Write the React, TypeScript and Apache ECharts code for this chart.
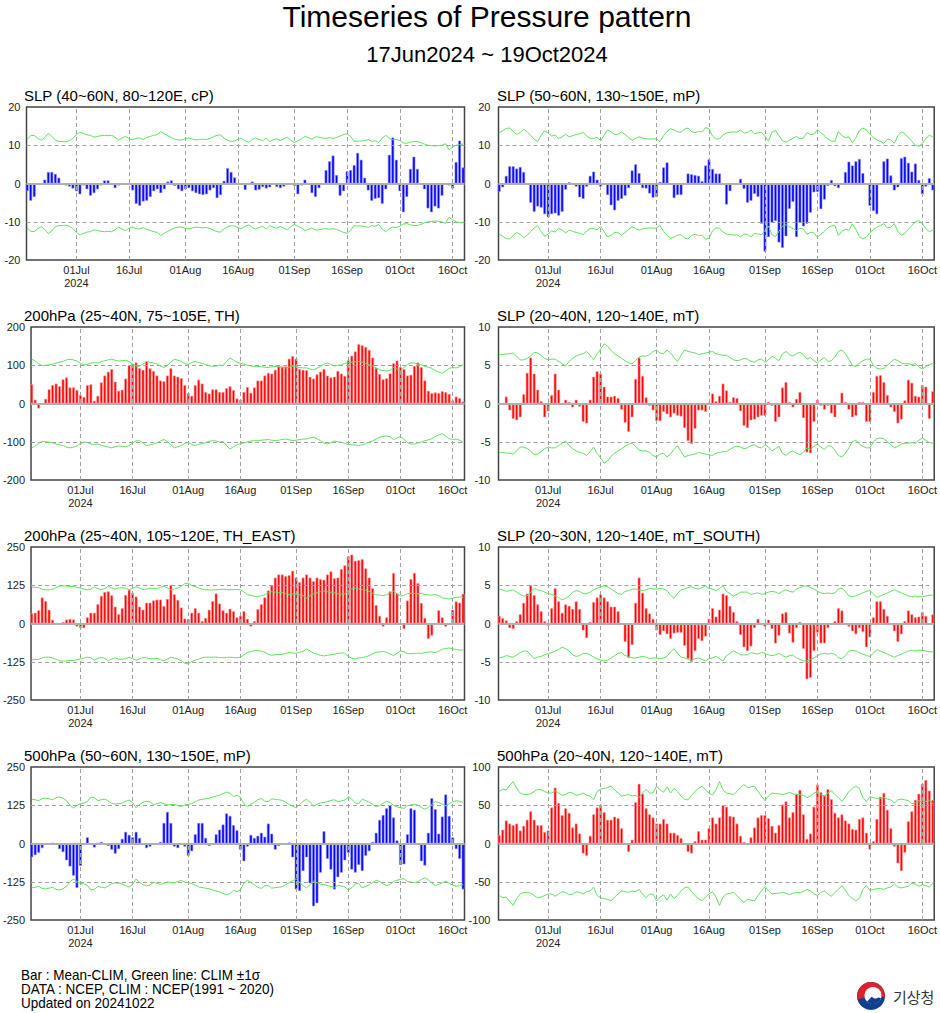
import React, { useEffect, useRef } from "react";
import * as echarts from "echarts";

// ---- axis ticks (day index from 17 Jun 2024) ----
const tickDays = [14, 29, 45, 60, 76, 91, 106, 121];
const tickLabels = ["01Jul\n2024", "16Jul", "01Aug", "16Aug", "01Sep", "16Sep", "01Oct", "16Oct"];

// ---- panel titles ----
const panelTitles = [
  "SLP (40~60N, 80~120E, cP)",
  "SLP (50~60N, 130~150E, mP)",
  "200hPa (25~40N, 75~105E, TH)",
  "SLP (20~40N, 120~140E, mT)",
  "200hPa (25~40N, 105~120E, TH_EAST)",
  "SLP (20~30N, 120~140E, mT_SOUTH)",
  "500hPa (50~60N, 130~150E, mP)",
  "500hPa (20~40N, 120~140E, mT)",
];

// ---- Bar : Mean-CLIM ; sigma : CLIM 1 sigma ----
const slpCP = [
  -2, -4.5, -3.5, -0.2, -0.2, 1, 3, 3, 2.5, 1.5,
  0, -0.5, -0.8, -1.3, -2, -2.8, -0.5, -1.5, -3.2, -2.5,
  -1.5, -0.5, 0.8, 0.8, -0.3, -1.2, -0.5, -0.1, 0, -0.1,
  -1.8, -5.3, -5.8, -4.7, -4.5, -3.5, -2, -1.5, -2.5, -1.5,
  0.5, 0.8, -0.6, -1.5, -2, -1.5, -1.2, -2, -2.5, -2.8,
  -3, -2.8, -1.8, -1.2, -3.8, -3, 0.7, 4, 3, 1.6,
  0, -0.3, -1.7, -0.4, 0.5, -1.8, -1.6, -0.9, -1.3, -1,
  0, -0.9, -1.2, -0.8, 0, 0, -0.6, -2.8, -0.5, 1,
  0, -2.5, -3.5, -1.2, 0, 3.5, 5.8, 7.3, 2.2, -3.2,
  -2, 3.2, 3.5, 4.8, 8, 6.2, 1.5, -1.8, -4.5, -4,
  -3.8, -5.3, -1.5, 7.5, 12, 6.2, -2, -7.5, -3.5, 3.8,
  7, 3.8, -0.3, -1.5, -6.5, -7.5, -6, -6.5, -3.2, 0,
  -0.5, -1.3, 5.6, 11.2, 4.2,
];
const slpCPSigma = [
  11.6, 12.5, 12.6, 11.8, 11.3, 12.0, 13.1, 12.4, 11.3, 11.0,
  11.0, 10.9, 11.2, 11.8, 12.8, 13.4, 13.1, 12.7, 12.6, 12.1,
  12.3, 12.5, 12.6, 12.5, 12.6, 12.1, 11.4, 11.9, 12.3, 11.7,
  11.4, 11.8, 11.9, 11.5, 12.0, 12.3, 12.6, 12.8, 13.6, 13.0,
  12.5, 12.0, 11.6, 11.4, 11.4, 11.7, 11.9, 11.6, 11.4, 11.5,
  11.6, 11.5, 11.8, 12.2, 12.6, 12.7, 11.9, 11.3, 11.0, 11.1,
  11.6, 11.8, 11.2, 10.8, 11.5, 11.9, 11.5, 11.2, 11.9, 11.0,
  11.4, 11.7, 11.2, 11.7, 12.1, 11.3, 10.7, 11.2, 11.6, 12.3,
  12.0, 11.6, 12.2, 12.1, 11.9, 11.8, 12.0, 11.8, 12.0, 12.4,
  12.8, 13.0, 12.3, 11.0, 11.1, 11.1, 11.2, 11.5, 11.0, 11.2,
  10.7, 11.9, 12.6, 11.8, 11.4, 11.5, 11.2, 10.6, 10.5, 10.8,
  11.0, 11.0, 10.7, 10.3, 10.0, 9.9, 9.8, 9.9, 10.0, 10.4,
  8.8, 9.5, 10.0, 10.2, 10.3,
];

const slpMP = [
  -2.2, -1, 2, 4.5, 4.5, 3.9, 4.3, 3, 0, -5,
  -7.4, -6, -6.3, -8, -8.8, -8, -7.8, -8.4, -7.4, -1.6,
  0.3, 0, -0.8, -3.6, -4, -0.8, 2, 3.1, 1, -0.8,
  -0.4, -3, -5.7, -7, -4.5, -4, -3.2, -1.2, 3.4, 5,
  2.7, -1.2, -1.3, -2.6, -3.7, -3.5, 0.4, 4.2, 5.5, 0,
  -3.8, -3, -3, -0.3, 2.6, 2.4, 2.2, 2, 0.6, 4.7,
  6.3, 3.8, 2.6, 2.6, -0.3, -5.5, -2, 0, -0.2, 1.2,
  -1.4, -5, -4.5, -2.7, -3.5, -10.5, -17.8, -14, -10.2, -9.8,
  -15.4, -16.8, -13.8, -6.6, -4.8, -14, -10.3, -11.2, -10.5, -7.6,
  -2.3, -2.2, -6.7, -4.2, -0.6, 0.9, -0.7, -1.2, 0, 3,
  5.7, 4.7, 5.8, 6.4, 2.7, 0, -5.8, -7.2, -8, 0,
  5.8, 6.5, 2.1, -1.8, -1, 6.6, 7, 5.4, 3.1, 5.2,
  0.9, -2.8, -0.8, 1.4, -1.8,
];
const slpMPSigma = [
  13.2, 13.8, 14.4, 14.5, 13.6, 12.8, 13.3, 14.2, 13.5, 12.6,
  11.6, 11.0, 12.6, 13.8, 13.2, 12.4, 12.7, 11.7, 12.2, 12.9,
  12.2, 12.5, 12.8, 13.0, 13.4, 12.4, 11.8, 11.8, 12.1, 11.2,
  12.6, 14.0, 13.5, 12.8, 12.9, 13.5, 12.8, 12.0, 11.3, 11.8,
  12.2, 11.9, 11.7, 11.6, 11.7, 11.6, 11.0, 12.5, 13.6, 14.3,
  14.0, 13.5, 13.4, 14.2, 14.5, 13.6, 13.3, 13.6, 13.5, 14.6,
  14.3, 12.4, 11.6, 11.7, 12.7, 13.2, 13.4, 13.5, 13.4, 14.0,
  13.2, 13.3, 14.0, 13.0, 13.2, 13.4, 12.3, 11.1, 13.4, 13.9,
  12.5, 11.2, 10.8, 11.3, 11.8, 12.3, 11.7, 11.9, 13.3, 12.8,
  12.9, 14.0, 13.3, 12.5, 11.6, 11.1, 11.0, 13.6, 12.5, 12.0,
  12.2, 10.6, 12.0, 13.9, 14.5, 14.0, 12.9, 12.0, 11.4, 11.0,
  10.5, 11.6, 11.4, 10.5, 12.5, 13.5, 13.0, 12.0, 11.0, 10.0,
  9.7, 10.5, 11.8, 12.6, 12.2,
];

const h200TH = [
  50, 10, -13, -3, 12, 37, 48, 52, 45, 63,
  68, 42, 42, 35, 22, 17, 48, 50, 7, 20,
  55, 73, 83, 90, 57, 33, 36, 65, 100, 103,
  107, 92, 88, 110, 92, 85, 73, 60, 58, 73,
  92, 73, 70, 66, 48, 27, 20, 48, 62, 52,
  30, 26, 37, 37, 30, 30, 40, 45, 35, 13,
  10, 30, 43, 28, 42, 60, 60, 73, 80, 78,
  88, 97, 97, 97, 117, 124, 117, 90, 88, 87,
  70, 65, 76, 83, 90, 73, 68, 70, 85, 78,
  72, 113, 125, 136, 155, 152, 148, 140, 120, 93,
  77, 63, 66, 79, 105, 112, 95, 90, 73, 75,
  98, 107, 95, 60, 33, 27, 29, 27, 32, 30,
  25, 8, 18, 14, 5,
];
const h200THSigma = [
  116, 111, 104, 99, 100, 101, 103, 106, 108, 110,
  114, 116, 114, 111, 105, 101, 102, 106, 107, 106,
  109, 112, 114, 116, 113, 111, 112, 113, 110, 103,
  98, 97, 103, 110, 108, 106, 103, 98, 94, 100,
  108, 116, 113, 110, 104, 102, 107, 110, 107, 105,
  102, 99, 97, 98, 101, 99, 110, 119, 113, 108,
  105, 103, 100, 98, 97, 97, 96, 95, 94, 96,
  97, 96, 94, 93, 95, 97, 96, 94, 93, 93,
  90, 88, 92, 97, 103, 106, 102, 98, 100, 101,
  105, 107, 108, 109, 110, 108, 105, 101, 98, 93,
  88, 86, 85, 87, 94, 90, 86, 94, 102, 106,
  106, 103, 101, 97, 95, 92, 86, 82, 79, 85,
  92, 94, 93, 96, 101,
];

const slpMT = [
  -0.1, 0, 0.9, -0.9, -2, -2.2, -1.8, 1.2, 4, 6,
  3.9, 1.8, 0.3, -1.8, -1, 1.1, 3.9, 1.8, 0, 0.5,
  0.2, -0.5, 0.5, -0.4, -2.4, -2.6, 0.5, 3.5, 4.2, 3.9,
  2.2, 0.9, 0.9, 1, 0.7, -0.8, -2.5, -3.7, -1.8, 3.2,
  6, 3.6, 0.8, -0.3, -0.9, -2.3, -2.3, -1.1, -1.4, -1.8,
  -1.3, -1.6, -1.7, -3.2, -4.9, -5.3, -3.3, -0.9, -0.9, -1.1,
  0.1, 1.3, 0.3, 1, 2.6, 1.7, 0.2, 0.8, 0.7, -1,
  -2.9, -3.2, -2.2, -2.1, -1.8, -1.6, -1.6, 0.2, -0.3, -2.4,
  -1.8, 2.1, 2.8, 0.2, -0.5, 0.6, 1.5, -1.9, -6.4, -6.5,
  -2.4, 0.5, -0.3, -0.8, -0.3, -1.3, -1.8, 0, 1.4, 0.2,
  -0.8, -1.8, -1.6, 0.2, 0.2, -2.4, -2.4, 1.5, 3.6, 3.7,
  2.8, 1.1, -0.5, -1.1, -2.6, -2.1, 0.4, 3.1, 2.7, 1,
  0.9, 2.4, 2.2, -2, 1.6,
];
const slpMTSigma = [
  6.4, 6.4, 6.5, 6.5, 6.6, 6.2, 5.7, 5.7, 5.9, 6.2,
  6.7, 6.6, 6.3, 5.9, 5.7, 5.8, 5.8, 5.5, 5.2, 4.9,
  5.5, 5.9, 6.2, 6.4, 6.5, 6.8, 6.3, 5.7, 6.5, 7.1,
  7.8, 7.5, 6.9, 6.5, 6.2, 5.9, 5.6, 5.3, 5.2, 5.6,
  6.1, 6.2, 6.2, 6.4, 6.8, 7.0, 6.6, 6.5, 7.0, 6.6,
  6.0, 5.5, 6.3, 7.0, 6.8, 6.7, 6.6, 6.4, 6.5, 6.6,
  6.7, 6.8, 6.5, 6.4, 6.3, 6.3, 6.0, 5.7, 5.6, 5.7,
  5.9, 5.8, 5.5, 5.4, 5.7, 5.8, 5.4, 5.7, 6.2, 5.9,
  5.6, 6.5, 6.8, 6.4, 6.2, 6.5, 6.7, 6.4, 5.8, 6.0,
  5.6, 5.3, 5.7, 6.0, 5.5, 5.6, 6.1, 6.8, 7.0, 6.5,
  5.8, 5.0, 4.8, 5.3, 5.6, 5.8, 5.8, 5.0, 4.6, 4.5,
  4.6, 5.0, 5.4, 5.8, 5.6, 5.3, 5.2, 5.2, 5.1, 5.2,
  4.8, 4.5, 4.8, 5.1, 5.2,
];

const h200THEast = [
  33, 35, 43, 85, 73, 45, 12, 0, -5, 5,
  13, 15, 13, -10, -15, -15, 20, 35, 35, 63,
  90, 103, 105, 92, 55, 30, 50, 93, 110, 100,
  88, 55, 45, 68, 68, 75, 78, 78, 57, 80,
  125, 95, 77, 52, 16, 15, 35, 50, 35, 8,
  18, 45, 73, 98, 65, 43, 35, 48, 40, 20,
  25, 40, 15, -10, 8, 47, 63, 85, 108, 125,
  150, 160, 160, 155, 158, 172, 150, 135, 150, 160,
  150, 138, 150, 145, 143, 160, 170, 148, 150, 178,
  190, 220, 225, 205, 207, 210, 180, 150, 115, 60,
  25, -10, 20, 105, 165, 98, -3, -18, 75, 145,
  165, 132, 67, 18, -50, -40, 0, 43, 20, -10,
  -3, 45, 72, 68, 97,
];
const h200THEastSigma = [
  119, 118, 117, 112, 110, 110, 113, 117, 122, 123,
  122, 121, 121, 118, 116, 113, 110, 112, 120, 114,
  111, 114, 122, 116, 112, 116, 117, 115, 110, 115,
  120, 116, 111, 112, 115, 115, 114, 118, 122, 116,
  110, 113, 116, 122, 130, 132, 124, 120, 116, 112,
  110, 110, 110, 110, 111, 112, 111, 110, 111, 112,
  110, 103, 94, 92, 89, 88, 91, 94, 100, 104,
  102, 101, 101, 98, 94, 97, 97, 94, 91, 83,
  90, 97, 100, 104, 106, 104, 102, 100, 98, 96,
  97, 108, 113, 116, 113, 111, 109, 105, 99, 94,
  93, 91, 94, 100, 105, 97, 90, 92, 98, 99,
  98, 97, 98, 95, 93, 93, 95, 91, 84, 82,
  80, 83, 85, 87, 86,
];

const slpMTSouth = [
  1, 0.7, 0.4, -0.6, -0.7, 0.3, 1.2, 2.7, 3.9, 5,
  3.7, 2.5, 1.6, 0.3, -0.3, 2, 4.6, 2.9, 1.4, 2.5,
  2.3, 1.9, 2.9, 1.9, -0.9, -1.9, 0.2, 2.8, 3.4, 3.8,
  3.4, 2.9, 2.2, 2.2, 1.6, 0, -2.4, -4.5, -2.8, 2.7,
  6, 4, 2, 1.3, 0.6, -0.9, -1.5, -1, -1.4, -2,
  -1.3, -1.2, -1.2, -2.9, -4.6, -5, -3.6, -2, -2.3, -1.7,
  0.6, 2, 0.9, 1.8, 3.9, 3.7, 2.3, 1.5, 0.3, -1.5,
  -3.1, -3.6, -3, -0.6, 0.6, -0.2, -0.4, 0.5, -0.7, -2.6,
  -1.6, 1.3, 1.5, -1.3, -2.5, -0.6, 0.2, -3.3, -7.3, -7.1,
  -3.6, -1.2, -2.6, -2.6, -0.6, 0, 0.3, 2, 1.7, 0,
  -0.4, -1, -1.4, -0.6, -1.1, -3.1, -1.8, 0.8, 2.9, 2.9,
  1.9, 1, 0, -1, -2.4, -1.4, 0.3, 1.7, 1.2, 0.8,
  0.9, 1.5, 1, 0, 1.2,
];
const slpMTSouthSigma = [
  4.5, 4.4, 4.2, 4.3, 4.4, 4.1, 3.8, 3.6, 3.6, 4.1,
  4.6, 4.4, 4.3, 4.1, 3.9, 3.8, 3.6, 3.4, 3.1, 3.3,
  3.6, 4.1, 4.3, 4.2, 3.9, 3.9, 4.1, 4.4, 4.6, 4.8,
  4.9, 4.8, 4.5, 4.2, 3.9, 3.8, 4.2, 4.3, 4.5, 4.5,
  4.4, 4.3, 4.4, 4.6, 4.5, 4.5, 4.6, 4.5, 4.3, 3.7,
  3.3, 3.9, 4.4, 4.5, 4.7, 4.8, 4.6, 4.5, 4.7, 4.9,
  4.6, 4.5, 4.3, 4.6, 4.9, 4.2, 3.9, 3.6, 3.8, 4.1,
  4.1, 4.1, 3.8, 3.9, 4.0, 3.8, 3.9, 4.1, 4.2, 4.1,
  3.9, 4.2, 4.4, 4.2, 4.1, 4.5, 4.7, 4.9, 4.9, 4.7,
  4.5, 4.2, 4.0, 3.9, 4.0, 3.9, 4.0, 4.5, 4.6, 4.2,
  3.6, 3.5, 3.6, 3.8, 4.0, 4.2, 4.3, 3.9, 3.4, 3.6,
  3.8, 4.0, 4.2, 4.4, 4.2, 4.0, 3.8, 3.6, 3.5, 3.6,
  3.5, 3.5, 3.6, 3.7, 3.7,
];

const h500MP = [
  -45, -38, -30, -15, 0, 0, 2, 0, -18, -28,
  -55, -75, -105, -145, -73, -5, 20, 0, -13, 2,
  5, 0, -8, -20, -33, -18, 15, 38, 28, 20,
  38, 18, 0, -15, -10, -3, 0, 5, 67, 103,
  67, -10, -15, 0, -10, -40, -25, 30, 67, 67,
  18, -8, -5, 30, 45, 62, 98, 90, 60, 43,
  -20, -58, -10, 28, 18, 25, 35, 22, 65, 32,
  -20, -8, 0, 0, 3, -45, -150, -155, -90, -45,
  -130, -205, -195, -95, 40, -50, -85, -150, -110, -95,
  -55, -30, -85, -95, -70, -90, -40, -25, 5, 35,
  77, 93, 115, 125, 85, 10, -70, -68, 30, 115,
  110, 0, -58, -72, 35, 148, 112, 32, 88, 160,
  90, 20, -18, -50, -150,
];
const h500MPSigma = [
  145, 143, 140, 147, 148, 146, 143, 150, 152, 148,
  140, 125, 116, 124, 131, 132, 137, 152, 150, 140,
  143, 145, 139, 131, 129, 130, 132, 138, 142, 134,
  116, 127, 135, 138, 136, 127, 130, 134, 130, 126,
  127, 128, 124, 121, 126, 128, 131, 136, 142, 144,
  146, 148, 152, 155, 158, 163, 168, 164, 153, 158,
  150, 130, 120, 128, 135, 143, 147, 138, 137, 146,
  144, 143, 141, 135, 128, 122, 116, 127, 138, 145,
  135, 122, 128, 133, 134, 137, 141, 143, 137, 139,
  142, 152, 145, 132, 130, 145, 140, 135, 128, 120,
  124, 132, 138, 134, 124, 120, 117, 115, 124, 126,
  128, 125, 118, 112, 118, 130, 137, 134, 129, 123,
  130, 136, 140, 138, 134,
];

const h500MT = [
  11, 18, 30, 26, 24, 26, 17, 23, 31, 42,
  31, 24, 24, 15, 17, 47, 73, 53, 37, 46,
  40, 21, 26, 13, -13, -16, 10, 38, 47, 50,
  41, 31, 31, 35, 33, 20, 0, -11, 5, 54,
  78, 65, 46, 38, 34, 26, 26, 32, 26, 14,
  14, 11, 7, 0, -11, -13, 3, 16, 5, 5,
  20, 34, 26, 34, 50, 48, 36, 35, 26, 10,
  2, -2, 8, 21, 34, 37, 37, 33, 23, 14,
  24, 51, 55, 34, 41, 65, 70, 38, 6, 13,
  48, 77, 67, 63, 71, 58, 40, 34, 38, 30,
  26, 19, 18, 32, 34, 14, -8, 3, 32, 61,
  66, 44, 20, -4, -26, -36, -12, 29, 42, 57,
  65, 78, 83, 69, 57,
];
const h500MTSigma = [
  68, 71, 70, 76, 81, 72, 66, 64, 64, 65,
  68, 71, 70, 68, 66, 66, 69, 66, 63, 64,
  67, 66, 63, 64, 66, 63, 62, 57, 68, 71,
  72, 73, 75, 70, 66, 62, 63, 64, 62, 63,
  60, 66, 71, 66, 66, 75, 70, 67, 74, 66,
  72, 68, 62, 58, 57, 63, 68, 72, 75, 70,
  66, 63, 70, 81, 70, 66, 65, 64, 68, 73,
  77, 73, 74, 75, 68, 62, 56, 62, 66, 65,
  65, 64, 65, 67, 65, 64, 64, 63, 60, 62,
  66, 68, 64, 62, 66, 69, 64, 60, 55, 61,
  68, 72, 75, 72, 60, 55, 61, 60, 59, 59,
  60, 58, 57, 53, 57, 58, 57, 56, 52, 53,
  56, 54, 55, 57, 52,
];

const barSets = [slpCP, slpMP, h200TH, slpMT, h200THEast, slpMTSouth, h500MP, h500MT];
const sigmaSets = [slpCPSigma, slpMPSigma, h200THSigma, slpMTSigma, h200THEastSigma, slpMTSouthSigma, h500MPSigma, h500MTSigma];
const axisRanges = [20, 20, 200, 10, 250, 10, 250, 100];
const axisSteps = [10, 10, 100, 5, 125, 5, 125, 50];
const barKinds = ["blue", "blue", "red", "red", "red", "red", "blue", "red"];

const FONT = "'Liberation Sans', Arial, Helvetica, sans-serif";
const GREEN = "#5fe35f";
const GRID_LEFT = [26.5, 498.5];
const GRID_TOP = [107, 327, 547, 767];
const GRID_W = 438;
const GRID_H = 153;

function buildOption() {
  const grid: any[] = [];
  const xAxis: any[] = [];
  const yAxis: any[] = [];
  const series: any[] = [];
  const graphic: any[] = [];

  barSets.forEach((bars, i) => {
    const col = i % 2;
    const row = Math.floor(i / 2);
    const range = axisRanges[i];
    const step = axisSteps[i];
    const blue = barKinds[i] === "blue";
    grid.push({
      left: GRID_LEFT[col],
      top: GRID_TOP[row],
      width: GRID_W,
      height: GRID_H,
      show: true,
      borderColor: "#444",
      borderWidth: 1.5,
      backgroundColor: "transparent",
    });
    xAxis.push({
      gridIndex: i,
      type: "value",
      min: -0.2,
      max: 124.4,
      axisLine: { show: false },
      axisTick: { show: false },
      splitLine: { show: false },
      axisLabel: {
        customValues: tickDays,
        formatter: (v: number) => {
          const k = tickDays.indexOf(Math.round(v));
          return k >= 0 ? tickLabels[k] : "";
        },
        fontSize: 11,
        lineHeight: 13,
        color: "#222",
        fontFamily: FONT,
        margin: 3,
        showMinLabel: true,
        showMaxLabel: true,
      },
    });
    yAxis.push({
      gridIndex: i,
      type: "value",
      min: -range,
      max: range,
      interval: step,
      axisLine: { show: false },
      axisTick: { show: false },
      splitLine: { show: false },
      axisLabel: {
        fontSize: 11,
        color: "#222",
        fontFamily: FONT,
        margin: col ? 8 : 6,
      },
    });
    series.push({
      type: "bar",
      xAxisIndex: i,
      yAxisIndex: i,
      barWidth: 2.8,
      clip: true,
      silent: true,
      z: 2,
      itemStyle: {
        color: blue ? "#0000ff" : "#ff0000",
        borderColor: blue ? "#8c8cff" : "#ff9a9a",
        borderWidth: 0.6,
      },
      data: bars.map((v, d) => [d, v]),
    });
    const sigma = sigmaSets[i];
    series.push({
      type: "line",
      xAxisIndex: i,
      yAxisIndex: i,
      symbol: "none",
      silent: true,
      z: 5,
      lineStyle: { color: GREEN, width: 1 },
      data: sigma.map((v, d) => [d, v]),
      markLine: {
        silent: true,
        symbol: ["none", "none"],
        label: { show: false },
        lineStyle: { type: [4, 3], color: "#a0a0a0", width: 1 },
        data: [
          ...tickDays.map((d) => ({ xAxis: d })),
          { yAxis: step },
          { yAxis: -step },
          { yAxis: 0, lineStyle: { type: "solid", color: "#b0b0b0", width: 2 } },
        ],
      },
    });
    series.push({
      type: "line",
      xAxisIndex: i,
      yAxisIndex: i,
      symbol: "none",
      silent: true,
      z: 5,
      lineStyle: { color: GREEN, width: 1 },
      data: sigma.map((v, d) => [d, -v]),
    });
    graphic.push({
      type: "text",
      x: col ? 497 : 24,
      y: GRID_TOP[row] - 11.5,
      style: {
        text: panelTitles[i],
        font: `15px ${FONT}`,
        fill: "#000",
        verticalAlign: "middle",
      },
    });
  });

  graphic.push(
    {
      type: "text",
      x: 487,
      y: 16,
      style: {
        text: "Timeseries of Pressure pattern",
        font: `30px ${FONT}`,
        fill: "#000",
        align: "center",
        verticalAlign: "middle",
      },
    },
    {
      type: "text",
      x: 487,
      y: 54,
      style: {
        text: "17Jun2024 ~ 19Oct2024",
        font: `22px ${FONT}`,
        fill: "#000",
        align: "center",
        verticalAlign: "middle",
      },
    }
  );

  const footer = [
    "Bar : Mean-CLIM, Green line: CLIM \u00b11\u03c3",
    "DATA : NCEP, CLIM : NCEP(1991 ~ 2020)",
    "Updated on 20241022",
  ];
  footer.forEach((t, k) => {
    graphic.push({
      type: "text",
      x: 21,
      y: 975 + k * 14,
      scaleX: 0.9,
      style: {
        text: t,
        font: `15px ${FONT}`,
        fill: "#000",
        verticalAlign: "middle",
      },
    });
  });

  // KMA emblem + name
  const cx = 871;
  const cy = 996;
  graphic.push(
    { type: "circle", shape: { cx, cy, r: 14 }, style: { fill: "#0f3f8e" } },
    {
      type: "sector",
      shape: { cx, cy, r: 14, r0: 0, startAngle: Math.PI * 0.92, endAngle: Math.PI * 2.02 },
      style: { fill: "#d9232e" },
    },
    { type: "circle", shape: { cx: cx + 2, cy: cy - 0.5, r: 8.5 }, style: { fill: "#ffffff" } },
    {
      type: "sector",
      shape: { cx: cx + 2, cy: cy - 0.5, r: 8.5, r0: 0, startAngle: Math.PI * 0.1, endAngle: Math.PI * 0.75 },
      style: { fill: "#0f3f8e" },
    },
    { type: "circle", shape: { cx: cx + 4.5, cy: cy - 1.5, r: 4 }, style: { fill: "#ffffff" } },
    {
      type: "text",
      x: 893,
      y: 996,
      style: {
        text: "기상청",
        font: `15px 'Noto Sans CJK KR', sans-serif`,
        fill: "#333",
        verticalAlign: "middle",
      },
    }
  );

  return {
    animation: false,
    backgroundColor: "#ffffff",
    grid,
    xAxis,
    yAxis,
    series,
    graphic,
  };
}

export default function App() {
  const ref = useRef<HTMLDivElement | null>(null);
  useEffect(() => {
    document.body.style.margin = "0";
    document.body.style.overflow = "hidden";
    if (!ref.current) return;
    const chart = echarts.init(ref.current, undefined, { renderer: "svg" });
    chart.setOption(buildOption() as any);
    return () => {
      chart.dispose();
    };
  }, []);
  return <div ref={ref} style={{ width: 940, height: 1013 }} />;
}
